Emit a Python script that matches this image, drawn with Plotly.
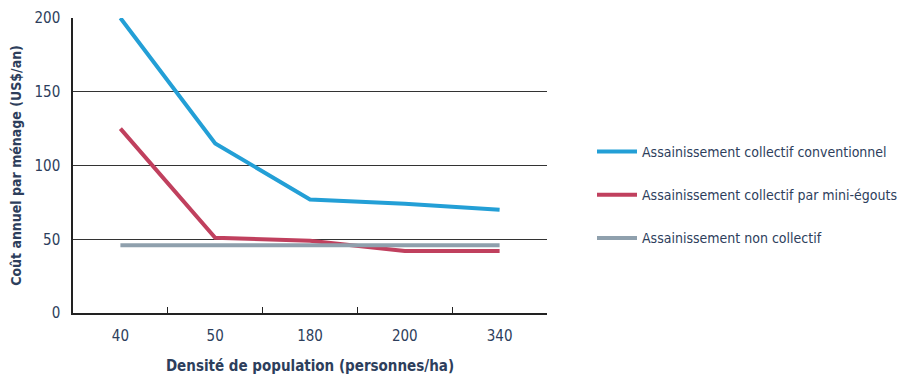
import plotly.graph_objects as go

categories = ["40", "50", "180", "200", "340"]
conventionnel = [200, 115, 77, 74, 70]
mini_egouts = [125, 51, 49, 42, 42]
non_collectif = [46, 46, 46, 46, 46]
series_names = [
    "Assainissement collectif conventionnel",
    "Assainissement collectif par mini-égouts",
    "Assainissement non collectif",
]
colors = ["#239fd6", "#c0405e", "#8fa0ad"]

FONT = "DejaVu Sans Condensed, Liberation Sans Narrow, Roboto, sans-serif"
TXT = "#2d3e5c"

fig = go.Figure()
for i, (name, vals) in enumerate(zip(series_names, [conventionnel, mini_egouts, non_collectif])):
    fig.add_trace(go.Scatter(
        x=categories, y=vals, mode="lines", name=name,
        line=dict(color=colors[i], width=4),
        legendgroup=str(i),
    ))

fig.update_layout(
    width=905, height=375,
    margin=dict(l=73, r=358, t=18, b=62, autoexpand=False),
    plot_bgcolor="white", paper_bgcolor="white",
    font=dict(family=FONT, color=TXT, size=14),
    showlegend=True,
    legend=dict(
        xref="container", yref="container",
        x=592 / 905, y=1 - 195 / 375, xanchor="left", yanchor="middle",
        font=dict(family=FONT, size=14, color=TXT),
        tracegroupgap=22, traceorder="grouped",
        itemwidth=40,
    ),
    xaxis=dict(
        type="category",
        range=[-0.5, 4.5],
        showgrid=False, showline=True, linecolor="#222", linewidth=1.5,
        ticks="inside", tickson="boundaries", ticklen=6, tickcolor="#222",
        tickfont=dict(family=FONT, size=15, color=TXT),
        ticklabelstandoff=8,
        title=dict(text="<b>Densité de population (personnes/ha)</b>",
                   font=dict(family=FONT, size=15, color=TXT), standoff=21),
    ),
    yaxis=dict(
        range=[0, 200], tickvals=[0, 50, 100, 150, 200],
        showgrid=True, gridcolor="#333", gridwidth=1,
        showline=True, linecolor="#222", linewidth=1.5,
        zeroline=False,
        tickfont=dict(family=FONT, size=15, color=TXT),
        ticklabelstandoff=8,
        title=dict(text="<b>Coût annuel par ménage (US$/an)</b>",
                   font=dict(family=FONT, size=14, color=TXT), standoff=10),
    ),
)

fig.write_html("out.html")
